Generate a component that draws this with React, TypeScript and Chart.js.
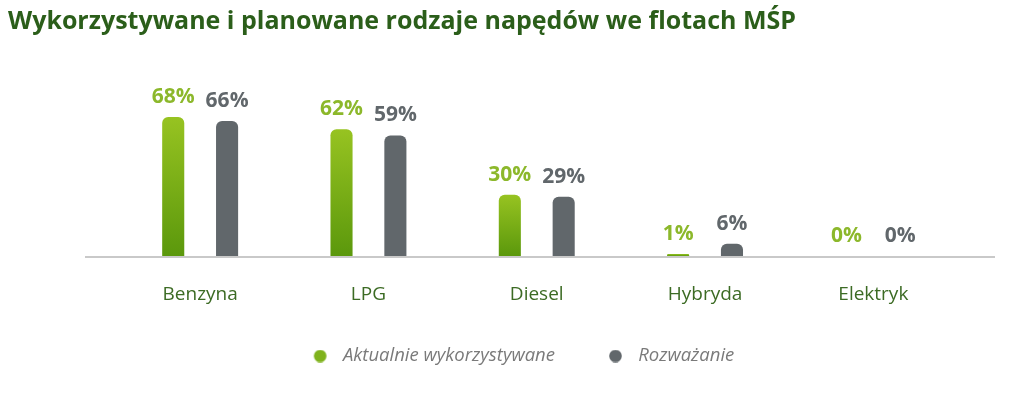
import React, { useEffect, useRef } from "react";
import { Chart, registerables } from "chart.js";

Chart.register(...registerables);

const TITLE = "Wykorzystywane i planowane rodzaje napędów we flotach MŚP";
const categories = ["Benzyna", "LPG", "Diesel", "Hybryda", "Elektryk"];
const seriesNames = ["Aktualnie wykorzystywane", "Rozważanie"];
const currentValues = [68, 62, 30, 1, 0];
const consideredValues = [66, 59, 29, 6, 0];

const GREEN_TOP = "#97c321";
const GREEN_BOTTOM = "#5b980c";
const GREEN_LABEL = "#8cb82b";
const GREEN_DOT = "#7fb21c";
const GRAY = "#61676b";
const FONT = "'Open Sans', Lato, sans-serif";

const LEGEND_FONT = 18.5;
const LEGEND_PAD = 24;

function dotImage(color: string) {
  const c = document.createElement("canvas");
  c.width = 50;
  c.height = 13;
  const g = c.getContext("2d")!;
  g.fillStyle = color;
  g.beginPath();
  g.arc(36.5, 6.5, 6.3, 0, Math.PI * 2);
  g.fill();
  return c;
}

const valueLabels = {
  id: "valueLabels",
  afterDatasetsDraw(chart: any) {
    const ctx = chart.ctx;
    ctx.save();
    ctx.font = `bold 21px ${FONT}`;
    ctx.textAlign = "center";
    ctx.textBaseline = "alphabetic";
    chart.data.datasets.forEach((ds: any, di: number) => {
      const meta = chart.getDatasetMeta(di);
      ctx.fillStyle = di === 0 ? GREEN_LABEL : GRAY;
      meta.data.forEach((el: any, i: number) => {
        ctx.fillText(`${ds.data[i]}%`, el.x, el.y - 14);
      });
    });
    ctx.restore();
  },
};

const baseline = {
  id: "baseline",
  beforeDatasetsDraw(chart: any) {
    const ctx = chart.ctx;
    const y = chart.scales.y.getPixelForValue(0);
    ctx.save();
    ctx.strokeStyle = "#c9c9c9";
    ctx.lineWidth = 2;
    ctx.beginPath();
    ctx.moveTo(85, y + 1);
    ctx.lineTo(995, y + 1);
    ctx.stroke();
    ctx.restore();
  },
};

export default function App() {
  const ref = useRef<HTMLCanvasElement | null>(null);
  useEffect(() => {
    if (!ref.current) return;
    const greenFill = (c: any) => {
      const chart = c.chart;
      const ys = chart.scales?.y;
      if (!ys || typeof c.raw !== "number") return GREEN_BOTTOM;
      const top = ys.getPixelForValue(c.raw);
      const bottom = ys.getPixelForValue(0);
      if (!isFinite(top) || !isFinite(bottom) || bottom - top < 1) return GREEN_BOTTOM;
      const g = chart.ctx.createLinearGradient(0, top, 0, bottom);
      g.addColorStop(0, GREEN_TOP);
      g.addColorStop(1, GREEN_BOTTOM);
      return g;
    };
    const dots = [dotImage(GREEN_DOT), dotImage(GRAY)];
    const chart = new Chart(ref.current, {
      type: "bar",
      data: {
        labels: categories,
        datasets: [
          {
            label: seriesNames[0],
            data: currentValues,
            backgroundColor: greenFill,
            borderRadius: { topLeft: 6, topRight: 6, bottomLeft: 0, bottomRight: 0 },
            borderSkipped: "start",
            barPercentage: 0.41,
            categoryPercentage: 0.64,
          },
          {
            label: seriesNames[1],
            data: consideredValues,
            backgroundColor: GRAY,
            borderRadius: { topLeft: 6, topRight: 6, bottomLeft: 0, bottomRight: 0 },
            borderSkipped: "start",
            barPercentage: 0.41,
            categoryPercentage: 0.64,
          },
        ],
      },
      options: {
        responsive: true,
        maintainAspectRatio: false,
        animation: false,
        layout: { padding: { left: 8, right: 2, top: 0, bottom: 22.75 } },
        plugins: {
          title: {
            display: true,
            text: TITLE,
            align: "start",
            color: "#2b5e1a",
            font: { family: FONT, size: 25, weight: "bold" },
            padding: { top: 7, bottom: 55.5 },
          },
          legend: {
            position: "bottom",
            labels: {
              usePointStyle: true,
              pointStyleWidth: 50,
              boxHeight: 13,
              padding: LEGEND_PAD,
              color: "#7a7a7a",
              font: { family: FONT, size: LEGEND_FONT, style: "italic" },
              generateLabels: (ch: any) =>
                ch.data.datasets.map((ds: any, i: number) => ({
                  text: ds.label,
                  fillStyle: i === 0 ? GREEN_DOT : GRAY,
                  strokeStyle: "transparent",
                  lineWidth: 0,
                  pointStyle: dots[i],
                  fontColor: "#7a7a7a",
                  hidden: false,
                  datasetIndex: i,
                })),
            },
          },
          tooltip: { enabled: false },
        },
        scales: {
          x: {
            grid: { display: false, drawTicks: false },
            border: { display: false },
            ticks: {
              color: "#3c6b24",
              font: { family: FONT, size: 19 },
              padding: 27,
            },
            afterFit: (s: any) => {
              s.height = 66.75;
            },
          },
          y: {
            min: 0,
            max: 80,
            grid: { display: false, drawTicks: false },
            border: { display: false },
            ticks: { display: false },
            afterFit: (s: any) => {
              s.width = 108;
            },
          },
          yr: {
            position: "right",
            grid: { display: false, drawTicks: false },
            border: { display: false },
            ticks: { display: false },
            afterFit: (s: any) => {
              s.width = 52.5;
            },
          },
        },
      },
      plugins: [valueLabels, baseline],
    });
    return () => chart.destroy();
  }, []);
  return (
    <div style={{ position: "fixed", left: 0, top: 0, width: 1012, height: 398 }}>
      <canvas ref={ref} />
    </div>
  );
}
